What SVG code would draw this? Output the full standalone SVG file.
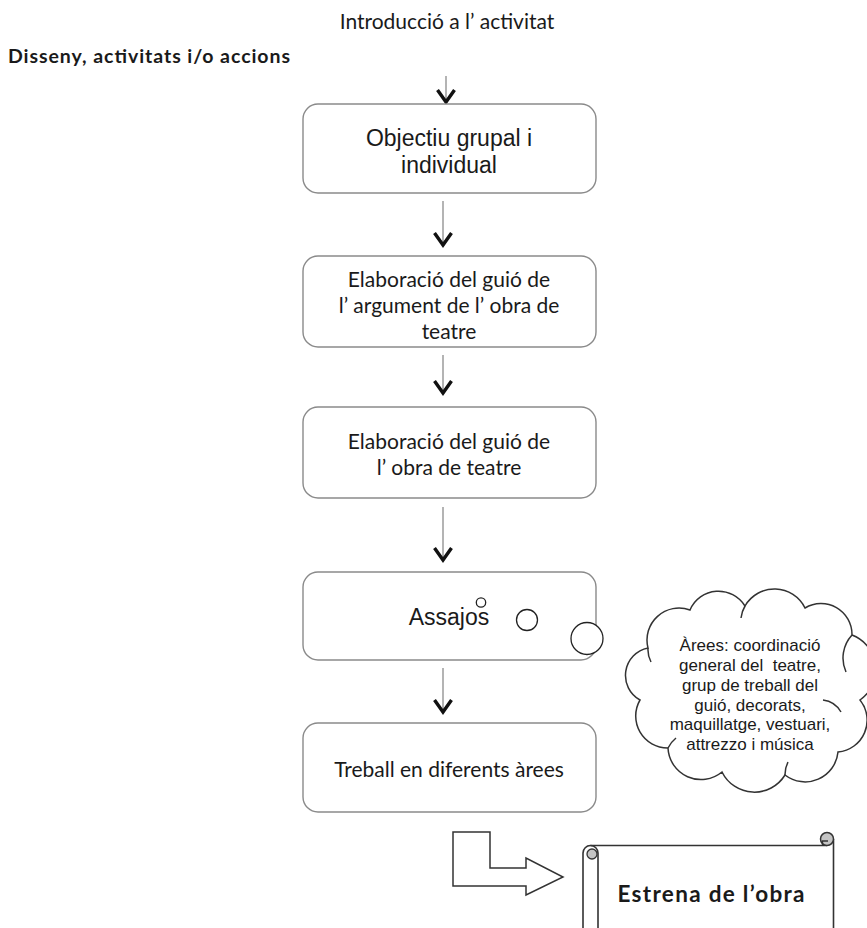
<svg xmlns="http://www.w3.org/2000/svg" xmlns:xlink="http://www.w3.org/1999/xlink" width="867" height="928" viewBox="0 0 867 928">
  <style>
    .box{fill:#fff;stroke:#8a8a8a;stroke-width:1.4}
    .ln{stroke:#8c8c8c;stroke-width:1.3;fill:none}
    .hd{stroke:#111;stroke-width:3.4;fill:none;stroke-linejoin:miter;stroke-linecap:butt}
    .cal{font-family:Lato,"Open Sans","Liberation Sans",sans-serif;fill:#1a1a1a}
    .ari{font-family:"Liberation Sans",Arial,sans-serif;fill:#1a1a1a}
    .ol{fill:#fff;stroke:#333;stroke-width:1.5}
    .dot{fill:#fff;stroke:#222;stroke-width:1.3}
  </style>
  <defs>
    <path id="chev" d="M-8.5 -12 L0 0 L8.5 -12"/>
  </defs>
  <rect width="867" height="928" fill="#fff"/>

  <!-- headings -->
  <g id="intro">
    <text class="cal" x="447" y="29" font-size="21" text-anchor="middle">Introducció a l’ activitat</text>
  </g>
  <g id="title">
    <text class="cal" x="8" y="63" font-size="19.5" font-weight="bold" textLength="282">Disseny, activitats i/o accions</text>
  </g>

  <!-- connectors -->
  <g id="connectors">
    <line class="ln" x1="446" y1="76" x2="446" y2="102"/>
    <use xlink:href="#chev" class="hd" x="446" y="102"/>
    <line class="ln" x1="443" y1="201" x2="443" y2="244"/>
    <use xlink:href="#chev" class="hd" x="443" y="245"/>
    <line class="ln" x1="443" y1="355" x2="443" y2="392"/>
    <use xlink:href="#chev" class="hd" x="443" y="393"/>
    <line class="ln" x1="443" y1="507" x2="443" y2="559"/>
    <use xlink:href="#chev" class="hd" x="443" y="560"/>
    <line class="ln" x1="443" y1="668" x2="443" y2="711"/>
    <use xlink:href="#chev" class="hd" x="443" y="712"/>
    <polygon id="bent-arrow" class="ol" points="453,832 490,832 490,868 526,868 526,858 563,877 526,895 526,886 453,886"/>
  </g>

  <g id="n1">
    <rect class="box" x="303" y="104" width="293" height="89" rx="15"/>
    <text class="ari" x="449" y="146" font-size="23" text-anchor="middle">Objectiu grupal i</text>
    <text class="ari" x="449" y="173" font-size="23" text-anchor="middle">individual</text>
  </g>

  <g id="n2">
    <rect class="box" x="303" y="256" width="293" height="91" rx="15"/>
    <text class="cal" x="449" y="287" font-size="21" text-anchor="middle">Elaboració del guió de</text>
    <text class="cal" x="449" y="313" font-size="21" text-anchor="middle">l’ argument de l’ obra de</text>
    <text class="cal" x="449" y="339" font-size="21" text-anchor="middle">teatre</text>
  </g>

  <g id="n3">
    <rect class="box" x="303" y="407" width="293" height="91" rx="15"/>
    <text class="cal" x="449" y="449" font-size="21" text-anchor="middle">Elaboració del guió de</text>
    <text class="cal" x="449" y="475" font-size="21" text-anchor="middle">l’ obra de teatre</text>
  </g>

  <g id="n4">
    <rect class="box" x="303" y="572" width="293" height="88" rx="15"/>
    <text class="ari" x="449" y="625" font-size="23" text-anchor="middle">Assajos</text>
    <circle class="dot" cx="481" cy="602.5" r="4.7"/>
    <circle class="dot" cx="527" cy="620" r="10.5"/>
    <circle class="dot" cx="587" cy="638.5" r="16"/>
  </g>

  <g id="n5">
    <rect class="box" x="303" y="723" width="293" height="89" rx="15"/>
    <text class="cal" x="449" y="777" font-size="21" text-anchor="middle">Treball en diferents àrees</text>
  </g>

  <!-- cloud callout -->
  <g id="cloud">
    <path class="ol" d="M 648 648 A 32 32 0 0 1 690 610 A 31 31 0 0 1 745 606 A 34 34 0 0 1 805 608 A 31 31 0 0 1 852 635 A 37 37 0 0 1 860 700 A 32 32 0 0 1 838 752 A 33 33 0 0 1 785 775 A 36 36 0 0 1 722 772 A 33 33 0 0 1 668 748 A 32 32 0 0 1 640 700 A 28 28 0 0 1 648 648 Z"/>
    <path fill="none" stroke="#333" stroke-width="1.5" d="M 648 648 A 26 26 0 0 0 651 662 M 745 606 A 30 30 0 0 0 741 618 M 852 635 A 34 34 0 0 0 846 672 M 823 700 A 24 24 0 0 1 841 712 M 785 775 A 28 28 0 0 1 788 762 M 668 748 A 30 30 0 0 1 676 738"/>
    <g class="ari" font-size="17" text-anchor="middle">
      <text x="750" y="651">Àrees: coordinació</text>
      <text x="750" y="671" xml:space="preserve">general del  teatre,</text>
      <text x="750" y="691">grup de treball del</text>
      <text x="750" y="711">guió, decorats,</text>
      <text x="750" y="730">maquillatge, vestuari,</text>
      <text x="750" y="750">attrezzo i música</text>
    </g>
  </g>

  <!-- scroll -->
  <g id="scroll">
    <path fill="#fff" stroke="#333" stroke-width="1.6" d="M 583 928 V 853 A 7.5 7.5 0 0 1 590.5 845.5 H 827 M 598 928 V 853 M 833.5 928 V 839"/>
    <circle cx="827" cy="839" r="6.5" fill="#c4c4c4" stroke="#333" stroke-width="1.5"/>
    <path fill="none" stroke="#333" stroke-width="1.3" d="M 822.5 845.5 V 841 H 828"/>
    <path fill="none" stroke="#333" stroke-width="1.6" d="M 590.5 845.5 A 7.5 7.5 0 0 1 598 853"/>
    <circle cx="592" cy="854" r="5" fill="#c4c4c4" stroke="#333" stroke-width="1.3"/>
    <text class="cal" x="711" y="902" font-size="22.5" font-weight="bold" text-anchor="middle" textLength="187">Estrena de l’obra</text>
  </g>
</svg>
